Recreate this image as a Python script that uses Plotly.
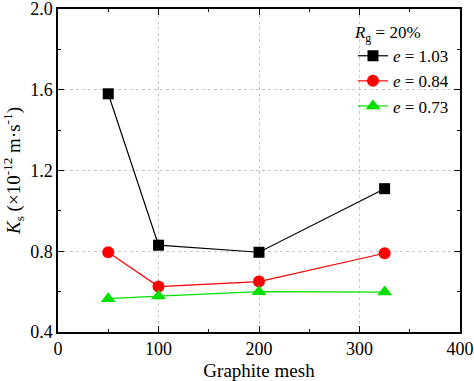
import plotly.graph_objects as go

mesh = [50, 100, 200, 325]
ks_e103 = [1.58, 0.83, 0.795, 1.11]
ks_e084 = [0.795, 0.625, 0.65, 0.79]
ks_e073 = [0.565, 0.578, 0.60, 0.598]
names = ["<i>e</i> = 1.03", "<i>e</i> = 0.84", "<i>e</i> = 0.73"]
colors = ["#000000", "#ff0000", "#00e000"]
symbols = ["square", "circle", "triangle-up"]
sizes = [11, 12, 13]

FONT = "Liberation Serif, DejaVu Serif, serif"
fig = go.Figure()
for ys, nm, c, s, sz in zip([ks_e103, ks_e084, ks_e073], names, colors, symbols, sizes):
    fig.add_trace(go.Scatter(x=mesh, y=ys, name=nm, mode="lines+markers",
                             line=dict(color=c, width=1.2),
                             marker=dict(symbol=s, color=c, size=sz)))

axis_common = dict(showline=True, linecolor="black", linewidth=1.5, mirror="allticks",
                   ticks="inside", ticklen=6, tickwidth=1, tickcolor="black",
                   showgrid=True, gridcolor="#c8c8c8", griddash="dot", gridwidth=1,
                   zeroline=False, tickfont=dict(family=FONT, size=18, color="black"),
                   automargin=False, ticklabeloverflow="allow",
                   minor=dict(ticks="inside", ticklen=3, tickcolor="black", showgrid=False))
fig.update_xaxes(range=[0, 400], tickvals=[0, 100, 200, 300, 400],
                 minor_dtick=50,
                 title=dict(text="Graphite mesh", font=dict(family=FONT, size=19, color="black"), standoff=6),
                 **axis_common)
fig.update_yaxes(range=[0.4, 2.0], tickvals=[0.4, 0.8, 1.2, 1.6, 2.0],
                 ticktext=["0.4", "0.8", "1.2", "1.6", "2.0"], minor_dtick=0.2,
                 title=dict(text="<i>K</i><sub>s</sub> (×10<sup>-12</sup> m·s<sup>-1</sup>)",
                            font=dict(family=FONT, size=19, color="black"), standoff=8),
                 **axis_common)
fig.update_layout(
    width=474, height=381,
    margin=dict(l=58, r=14, t=9, b=49, autoexpand=False),
    plot_bgcolor="white", paper_bgcolor="white",
    font=dict(family=FONT, color="black"),
    legend=dict(x=0.985, y=0.978, xanchor="right", yanchor="top",
                bgcolor="rgba(0,0,0,0)", font=dict(family=FONT, size=17),
                title=dict(text="<i>R</i><sub>g</sub> = 20%", font=dict(family=FONT, size=17)),
                tracegroupgap=0, itemwidth=30),
    showlegend=True,
)
fig.write_html("out.html", config={"displayModeBar": False},
               post_script="document.body.style.margin='0';document.body.style.overflow='hidden';")
